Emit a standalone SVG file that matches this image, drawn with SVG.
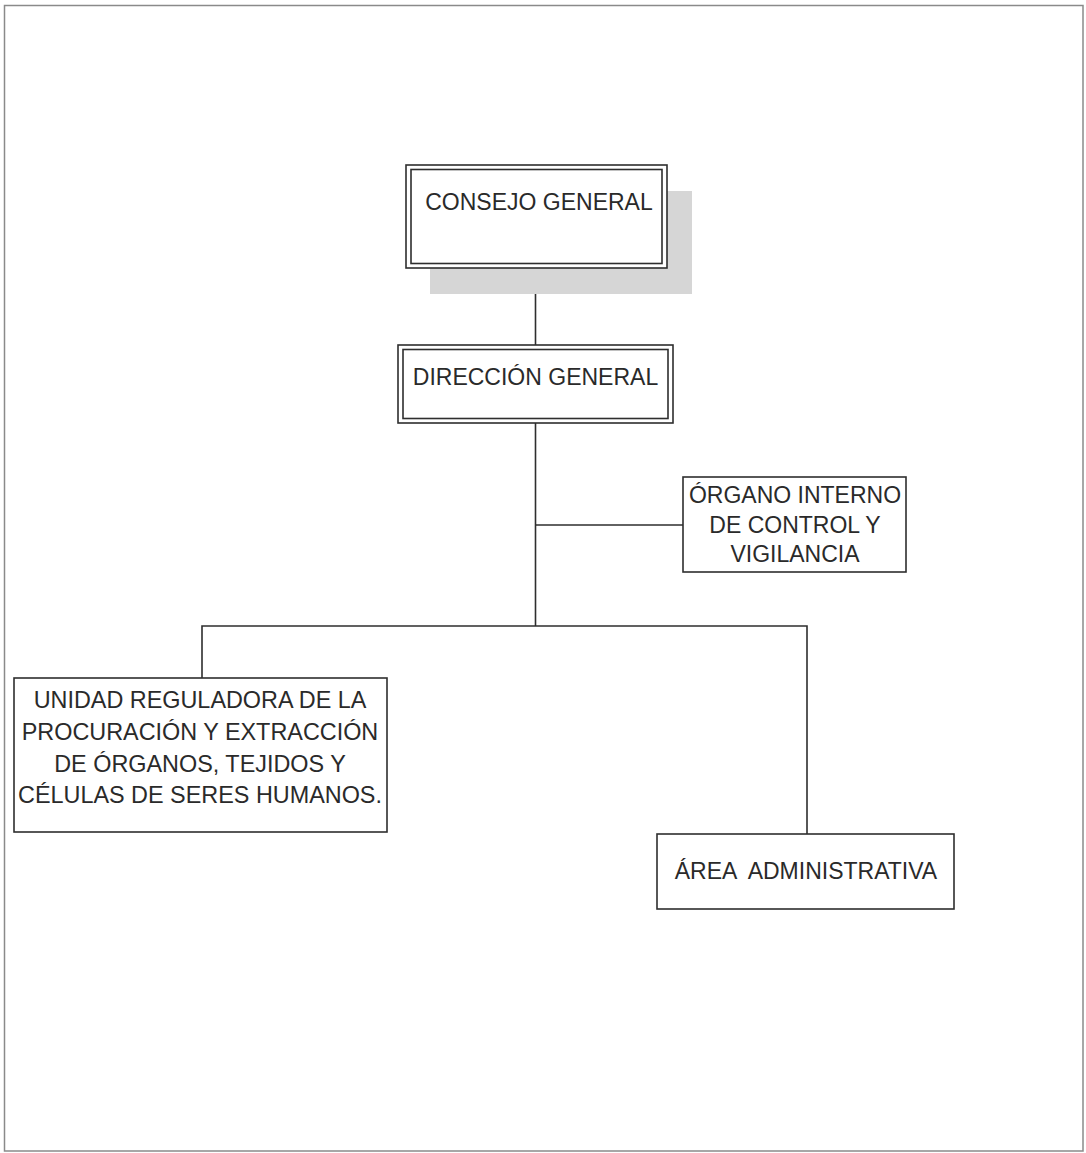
<svg xmlns="http://www.w3.org/2000/svg" width="1086" height="1153" viewBox="0 0 1086 1153">
<style>
.box{fill:#fff;stroke:#2e2e2e;stroke-width:1.6}
.inner{fill:none;stroke:#2e2e2e;stroke-width:1.6}
.conn{fill:none;stroke:#2e2e2e;stroke-width:1.6}
.t{font-family:"Liberation Sans",Arial,sans-serif;font-size:23px;fill:#2a2a2a;text-anchor:middle}
</style>
<rect x="0" y="0" width="1086" height="1153" fill="#fff"/>
<rect x="4.5" y="5.5" width="1078.5" height="1145.5" fill="none" stroke="#8a8a8a" stroke-width="1.5"/>
<g id="connectors">
<line class="conn" x1="535.5" y1="268" x2="535.5" y2="345"/>
<line class="conn" x1="535.5" y1="423" x2="535.5" y2="626"/>
<line class="conn" x1="535.5" y1="525" x2="683" y2="525"/>
<polyline class="conn" points="202,678 202,626 807,626 807,834"/>
</g>
<g id="consejo-general">
<rect x="430" y="191" width="262" height="103" fill="#d6d6d6"/>
<rect class="box" x="406" y="165" width="261" height="103"/>
<rect class="inner" x="411" y="169.5" width="251" height="94"/>
<text class="t" x="539" y="210">CONSEJO GENERAL</text>
</g>
<g id="direccion-general">
<rect class="box" x="398" y="345" width="275" height="78"/>
<rect class="inner" x="403" y="349.5" width="265" height="69"/>
<text class="t" x="535.5" y="385">DIRECCIÓN GENERAL</text>
</g>
<g id="organo-interno">
<rect class="box" x="683" y="477" width="223" height="95"/>
<text class="t" x="795" y="503">ÓRGANO INTERNO</text>
<text class="t" x="795" y="533">DE CONTROL Y</text>
<text class="t" x="795" y="562">VIGILANCIA</text>
</g>
<g id="unidad-reguladora">
<rect class="box" x="14" y="678" width="373" height="154"/>
<text class="t" x="200" y="708" style="font-size:23.4px">UNIDAD REGULADORA DE LA</text>
<text class="t" x="200" y="740" style="font-size:23.4px">PROCURACIÓN Y EXTRACCIÓN</text>
<text class="t" x="200" y="771.5" style="font-size:23.4px">DE ÓRGANOS, TEJIDOS Y</text>
<text class="t" x="200" y="803" style="font-size:23.4px">CÉLULAS DE SERES HUMANOS.</text>
</g>
<g id="area-administrativa">
<rect class="box" x="657" y="834" width="297" height="75"/>
<text class="t" x="806" y="879" xml:space="preserve" style="white-space:pre">ÁREA  ADMINISTRATIVA</text>
</g>
</svg>
